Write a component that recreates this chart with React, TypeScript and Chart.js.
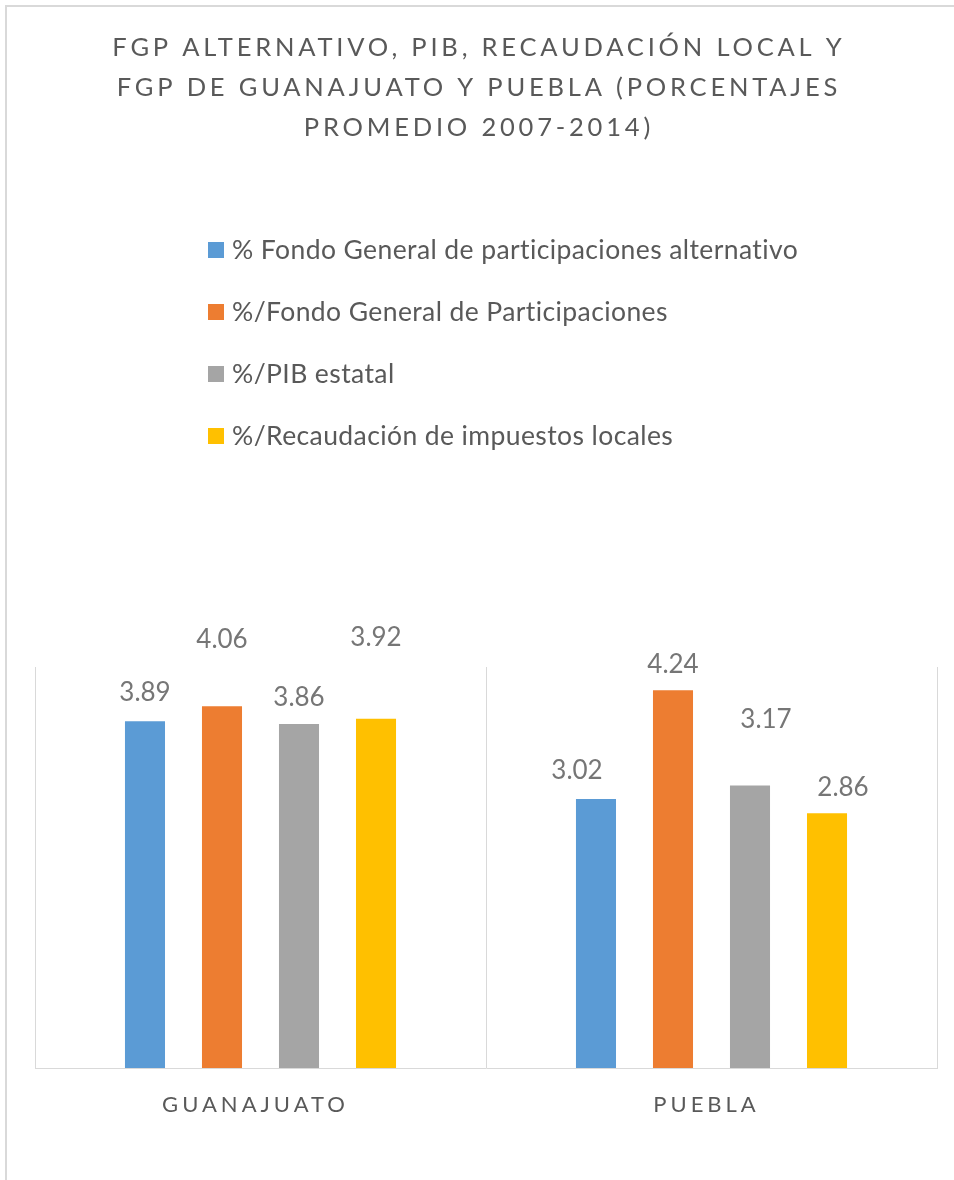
import React, { useEffect, useRef } from "react";
import { Chart, registerables } from "chart.js";

Chart.register(...registerables);

const TITLE_LINES = [
  "FGP ALTERNATIVO, PIB, RECAUDACIÓN LOCAL Y",
  "FGP DE GUANAJUATO Y PUEBLA (PORCENTAJES",
  "PROMEDIO 2007-2014)",
];
const CATEGORIES = ["GUANAJUATO", "PUEBLA"];
const SERIES_LABELS = [
  "% Fondo General de participaciones alternativo",
  "%/Fondo General de Participaciones",
  "%/PIB estatal",
  "%/Recaudación de impuestos locales",
];
const SERIES_COLORS = ["#5B9BD5", "#ED7D31", "#A5A5A5", "#FFC000"];
const FGP_ALTERNATIVO = [3.89, 3.02];
const FGP = [4.06, 4.24];
const PIB_ESTATAL = [3.86, 3.17];
const RECAUDACION_LOCAL = [3.92, 2.86];
const SERIES_VALUES = [FGP_ALTERNATIVO, FGP, PIB_ESTATAL, RECAUDACION_LOCAL];

const FONT = "Lato, 'Open Sans', sans-serif";

// label placement (style): lift above bar top and horizontal shift, per dataset & category
const LABEL_LIFT = [
  [20, 19.5],
  [58.5, 17.5],
  [18.5, 57.5],
  [72.5, 17.5],
];
const LABEL_SHIFT = [
  [0, -19],
  [0, 0],
  [0, 16],
  [0, 16],
];

const decorPlugin = {
  id: "decor",
  beforeDraw(chart: any) {
    const ctx = chart.ctx;
    ctx.save();
    ctx.strokeStyle = "#d9d9d9";
    ctx.lineWidth = 2;
    ctx.beginPath();
    ctx.moveTo(6, chart.height + 5);
    ctx.lineTo(6, 6);
    ctx.lineTo(chart.width + 5, 6);
    ctx.stroke();
    ctx.restore();
  },
  afterDraw(chart: any) {
    const ctx = chart.ctx;
    const area = chart.chartArea;
    ctx.save();

    // title
    ctx.fillStyle = "#595959";
    ctx.font = `400 25.5px ${FONT}`;
    ctx.textAlign = "center";
    ctx.textBaseline = "alphabetic";
    (ctx as any).letterSpacing = "3.8px";
    TITLE_LINES.forEach((line, i) => {
      ctx.fillText(line, chart.width / 2 + 1.9, 56 + i * 40);
    });

    // legend
    (ctx as any).letterSpacing = "0.4px";
    ctx.textAlign = "left";
    ctx.font = `400 26.5px ${FONT}`;
    chart.data.datasets.forEach((ds: any, i: number) => {
      const y = 242 + i * 62;
      ctx.fillStyle = ds.backgroundColor;
      ctx.fillRect(208, y, 16, 16);
      ctx.fillStyle = "#595959";
      ctx.fillText(ds.label, 232, y + 17);
    });

    // data labels
    (ctx as any).letterSpacing = "0px";
    ctx.textAlign = "center";
    ctx.font = `400 26px ${FONT}`;
    ctx.fillStyle = "#767676";
    chart.data.datasets.forEach((ds: any, i: number) => {
      const meta = chart.getDatasetMeta(i);
      meta.data.forEach((bar: any, j: number) => {
        const v = ds.data[j];
        ctx.fillText(v.toFixed(2), bar.x + LABEL_SHIFT[i][j], bar.y - LABEL_LIFT[i][j]);
      });
    });

    // category labels
    const xs = chart.scales.x;
    ctx.font = `400 22px ${FONT}`;
    ctx.fillStyle = "#595959";
    (ctx as any).letterSpacing = "4px";
    chart.data.labels.forEach((lab: string, j: number) => {
      ctx.fillText(lab, xs.getPixelForValue(j) - 5, area.bottom + 44);
    });
    ctx.restore();
  },
};

export default function App() {
  const ref = useRef<HTMLCanvasElement | null>(null);
  useEffect(() => {
    if (!ref.current) return;
    const chart = new Chart(ref.current, {
      type: "bar",
      data: {
        labels: CATEGORIES,
        datasets: SERIES_VALUES.map((vals, i) => ({
          label: SERIES_LABELS[i],
          data: vals,
          backgroundColor: SERIES_COLORS[i],
          borderWidth: 0,
          categoryPercentage: 0.683,
          barPercentage: 0.52,
        })),
      },
      options: {
        animation: false,
        responsive: false,
        maintainAspectRatio: false,
        layout: { padding: { left: 35, right: 17, top: 667, bottom: 112 } },
        plugins: {
          legend: { display: false },
          title: { display: false },
          tooltip: { enabled: false },
        },
        scales: {
          x: {
            offset: true,
            grid: { display: true, color: "#d9d9d9", lineWidth: 1, offset: true, drawTicks: false },
            border: { display: true, color: "#d9d9d9", width: 1 },
            ticks: { display: false },
          },
          y: {
            display: false,
            min: 0,
            max: 4.5,
          },
        },
      },
      plugins: [decorPlugin],
    });
    return () => chart.destroy();
  }, []);
  return (
    <div style={{ position: "absolute", left: 0, top: 0, width: 954, height: 1180, background: "#fff" }}>
      <canvas ref={ref} width={954} height={1180} style={{ display: "block" }} />
    </div>
  );
}
